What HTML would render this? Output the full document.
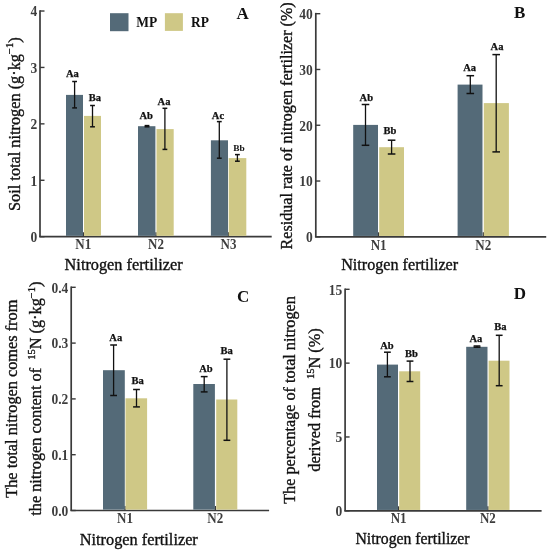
<!DOCTYPE html>
<html><head><meta charset="utf-8"><style>
html,body{margin:0;padding:0;background:#fff;}
svg{display:block;will-change:transform;}
</style></head><body>
<svg width="550" height="551" viewBox="0 0 550 551">
<rect width="550" height="551" fill="#fff"/>
<line x1="40" y1="10.15" x2="40" y2="236.7" stroke="#3a3a3a" stroke-width="1.7"/>
<line x1="39.15" y1="236.7" x2="271.7" y2="236.7" stroke="#3a3a3a" stroke-width="1.7"/>
<line x1="40" y1="236.7" x2="44.5" y2="236.7" stroke="#3a3a3a" stroke-width="1.4"/>
<text transform="translate(37.3,242.0) scale(1,1.15)" font-family="Liberation Serif" font-weight="bold" font-size="13.5" fill="#3d3d3d" text-anchor="end">0</text>
<line x1="40" y1="180.27999999999997" x2="44.5" y2="180.27999999999997" stroke="#3a3a3a" stroke-width="1.4"/>
<text transform="translate(37.3,185.57999999999998) scale(1,1.15)" font-family="Liberation Serif" font-weight="bold" font-size="13.5" fill="#3d3d3d" text-anchor="end">1</text>
<line x1="40" y1="123.85999999999999" x2="44.5" y2="123.85999999999999" stroke="#3a3a3a" stroke-width="1.4"/>
<text transform="translate(37.3,129.16) scale(1,1.15)" font-family="Liberation Serif" font-weight="bold" font-size="13.5" fill="#3d3d3d" text-anchor="end">2</text>
<line x1="40" y1="67.44" x2="44.5" y2="67.44" stroke="#3a3a3a" stroke-width="1.4"/>
<text transform="translate(37.3,72.74) scale(1,1.15)" font-family="Liberation Serif" font-weight="bold" font-size="13.5" fill="#3d3d3d" text-anchor="end">3</text>
<line x1="40" y1="11.019999999999982" x2="44.5" y2="11.019999999999982" stroke="#3a3a3a" stroke-width="1.4"/>
<text transform="translate(37.3,16.319999999999983) scale(1,1.15)" font-family="Liberation Serif" font-weight="bold" font-size="13.5" fill="#3d3d3d" text-anchor="end">4</text>
<line x1="83.3" y1="236.7" x2="83.3" y2="232.2" stroke="#3a3a3a" stroke-width="1.4"/>
<text transform="translate(83.3,249.3) scale(1,1.13)" font-family="Liberation Serif" font-weight="bold" font-size="13" fill="#3d3d3d" text-anchor="middle">N1</text>
<line x1="156" y1="236.7" x2="156" y2="232.2" stroke="#3a3a3a" stroke-width="1.4"/>
<text transform="translate(156,249.3) scale(1,1.13)" font-family="Liberation Serif" font-weight="bold" font-size="13" fill="#3d3d3d" text-anchor="middle">N2</text>
<line x1="228.5" y1="236.7" x2="228.5" y2="232.2" stroke="#3a3a3a" stroke-width="1.4"/>
<text transform="translate(228.5,249.3) scale(1,1.13)" font-family="Liberation Serif" font-weight="bold" font-size="13" fill="#3d3d3d" text-anchor="middle">N3</text>
<rect x="66" y="94.9" width="17" height="140.95" fill="#546a78"/>
<rect x="84" y="115.9" width="17" height="119.94999999999999" fill="#cfc886"/>
<rect x="138" y="126.2" width="17.400000000000006" height="109.64999999999999" fill="#546a78"/>
<rect x="156.5" y="129.1" width="17.19999999999999" height="106.75" fill="#cfc886"/>
<rect x="210.9" y="140.3" width="17.099999999999994" height="95.54999999999998" fill="#546a78"/>
<rect x="228.7" y="158.1" width="17.600000000000023" height="77.75" fill="#cfc886"/>
<line x1="74.6" y1="81.5" x2="74.6" y2="107.9" stroke="#111" stroke-width="1.3"/>
<line x1="72.19999999999999" y1="81.5" x2="77.0" y2="81.5" stroke="#111" stroke-width="1.5"/>
<line x1="72.19999999999999" y1="107.9" x2="77.0" y2="107.9" stroke="#111" stroke-width="1.5"/>
<line x1="92.5" y1="105.5" x2="92.5" y2="126.8" stroke="#111" stroke-width="1.3"/>
<line x1="90.1" y1="105.5" x2="94.9" y2="105.5" stroke="#111" stroke-width="1.5"/>
<line x1="90.1" y1="126.8" x2="94.9" y2="126.8" stroke="#111" stroke-width="1.5"/>
<line x1="147" y1="125.6" x2="147" y2="126.8" stroke="#111" stroke-width="1.3"/>
<line x1="144.6" y1="125.6" x2="149.4" y2="125.6" stroke="#111" stroke-width="1.5"/>
<line x1="144.6" y1="126.8" x2="149.4" y2="126.8" stroke="#111" stroke-width="1.5"/>
<line x1="164.9" y1="108.3" x2="164.9" y2="149.4" stroke="#111" stroke-width="1.3"/>
<line x1="162.5" y1="108.3" x2="167.3" y2="108.3" stroke="#111" stroke-width="1.5"/>
<line x1="162.5" y1="149.4" x2="167.3" y2="149.4" stroke="#111" stroke-width="1.5"/>
<line x1="219.3" y1="121.6" x2="219.3" y2="158.2" stroke="#111" stroke-width="1.3"/>
<line x1="216.9" y1="121.6" x2="221.70000000000002" y2="121.6" stroke="#111" stroke-width="1.5"/>
<line x1="216.9" y1="158.2" x2="221.70000000000002" y2="158.2" stroke="#111" stroke-width="1.5"/>
<line x1="237.4" y1="154.6" x2="237.4" y2="161.2" stroke="#111" stroke-width="1.3"/>
<line x1="235.0" y1="154.6" x2="239.8" y2="154.6" stroke="#111" stroke-width="1.5"/>
<line x1="235.0" y1="161.2" x2="239.8" y2="161.2" stroke="#111" stroke-width="1.5"/>
<text x="65.9" y="77.4" font-family="Liberation Serif" font-weight="bold" font-size="10.5" fill="#111" stroke="#111" stroke-width="0.25" >Aa</text>
<text x="88.7" y="100.7" font-family="Liberation Serif" font-weight="bold" font-size="10.5" fill="#111" stroke="#111" stroke-width="0.25" >Ba</text>
<text x="139.4" y="119.2" font-family="Liberation Serif" font-weight="bold" font-size="10.5" fill="#111" stroke="#111" stroke-width="0.25" >Ab</text>
<text x="157.6" y="104.7" font-family="Liberation Serif" font-weight="bold" font-size="10.5" fill="#111" stroke="#111" stroke-width="0.25" >Aa</text>
<text x="211.8" y="119" font-family="Liberation Serif" font-weight="bold" font-size="10.5" fill="#111" stroke="#111" stroke-width="0.25" >Ac</text>
<text transform="translate(233.3,150.9) scale(0.9,0.72)" font-family="Liberation Serif" font-weight="bold" font-size="10.5" fill="#111">Bb</text>
<rect x="110" y="13.2" width="18.5" height="18" fill="#546a78"/>
<rect x="164.9" y="13.2" width="18" height="17.7" fill="#cfc886"/>
<text transform="translate(136.2,26.8) scale(1,1.13)" font-family="Liberation Serif" font-weight="bold" font-size="13.5" fill="#111">MP</text>
<text transform="translate(191,26.8) scale(1,1.13)" font-family="Liberation Serif" font-weight="bold" font-size="13.5" fill="#111">RP</text>
<text x="236.6" y="18.5" font-family="Liberation Serif" font-weight="bold" font-size="17" fill="#111">A</text>
<text x="64.6" y="270.2" font-family="Liberation Serif" font-size="16.3" fill="#111" stroke="#111" stroke-width="0.35">Nitrogen fertilizer</text>
<text transform="translate(20,124.2) rotate(-90)" x="0" y="0" font-family="Liberation Serif" font-size="16.3" fill="#111" stroke="#111" stroke-width="0.35" text-anchor="middle" xml:space="preserve">Soil total nitrogen (g·kg<tspan font-size="10.5" dy="-7.3">−1</tspan><tspan dy="7.3">)</tspan></text>
<line x1="315.8" y1="12.85" x2="315.8" y2="236.8" stroke="#3a3a3a" stroke-width="1.7"/>
<line x1="314.95" y1="236.8" x2="546.2" y2="236.8" stroke="#3a3a3a" stroke-width="1.7"/>
<line x1="315.8" y1="236.8" x2="320.3" y2="236.8" stroke="#3a3a3a" stroke-width="1.4"/>
<text transform="translate(312.8,242.10000000000002) scale(1,1.15)" font-family="Liberation Serif" font-weight="bold" font-size="13.5" fill="#3d3d3d" text-anchor="end">0</text>
<line x1="315.8" y1="181.025" x2="320.3" y2="181.025" stroke="#3a3a3a" stroke-width="1.4"/>
<text transform="translate(312.8,186.32500000000002) scale(1,1.15)" font-family="Liberation Serif" font-weight="bold" font-size="13.5" fill="#3d3d3d" text-anchor="end">10</text>
<line x1="315.8" y1="125.25" x2="320.3" y2="125.25" stroke="#3a3a3a" stroke-width="1.4"/>
<text transform="translate(312.8,130.55) scale(1,1.15)" font-family="Liberation Serif" font-weight="bold" font-size="13.5" fill="#3d3d3d" text-anchor="end">20</text>
<line x1="315.8" y1="69.475" x2="320.3" y2="69.475" stroke="#3a3a3a" stroke-width="1.4"/>
<text transform="translate(312.8,74.77499999999999) scale(1,1.15)" font-family="Liberation Serif" font-weight="bold" font-size="13.5" fill="#3d3d3d" text-anchor="end">30</text>
<line x1="315.8" y1="13.699999999999989" x2="320.3" y2="13.699999999999989" stroke="#3a3a3a" stroke-width="1.4"/>
<text transform="translate(312.8,18.99999999999999) scale(1,1.15)" font-family="Liberation Serif" font-weight="bold" font-size="13.5" fill="#3d3d3d" text-anchor="end">40</text>
<line x1="378.6" y1="236.8" x2="378.6" y2="232.3" stroke="#3a3a3a" stroke-width="1.4"/>
<text transform="translate(378.6,249.6) scale(1,1.13)" font-family="Liberation Serif" font-weight="bold" font-size="13" fill="#3d3d3d" text-anchor="middle">N1</text>
<line x1="483.3" y1="236.8" x2="483.3" y2="232.3" stroke="#3a3a3a" stroke-width="1.4"/>
<text transform="translate(483.3,249.6) scale(1,1.13)" font-family="Liberation Serif" font-weight="bold" font-size="13" fill="#3d3d3d" text-anchor="middle">N2</text>
<rect x="353.2" y="124.9" width="24.80000000000001" height="111.05000000000001" fill="#546a78"/>
<rect x="379.2" y="147.2" width="24.80000000000001" height="88.75000000000003" fill="#cfc886"/>
<rect x="457.6" y="84.6" width="24.899999999999977" height="151.35000000000002" fill="#546a78"/>
<rect x="483.8" y="103.1" width="25.099999999999966" height="132.85000000000002" fill="#cfc886"/>
<line x1="365.5" y1="104.5" x2="365.5" y2="145.3" stroke="#111" stroke-width="1.3"/>
<line x1="361.7" y1="104.5" x2="369.3" y2="104.5" stroke="#111" stroke-width="1.5"/>
<line x1="361.7" y1="145.3" x2="369.3" y2="145.3" stroke="#111" stroke-width="1.5"/>
<line x1="391.6" y1="140.2" x2="391.6" y2="154" stroke="#111" stroke-width="1.3"/>
<line x1="387.8" y1="140.2" x2="395.40000000000003" y2="140.2" stroke="#111" stroke-width="1.5"/>
<line x1="387.8" y1="154" x2="395.40000000000003" y2="154" stroke="#111" stroke-width="1.5"/>
<line x1="470.3" y1="75.7" x2="470.3" y2="93.5" stroke="#111" stroke-width="1.3"/>
<line x1="466.5" y1="75.7" x2="474.1" y2="75.7" stroke="#111" stroke-width="1.5"/>
<line x1="466.5" y1="93.5" x2="474.1" y2="93.5" stroke="#111" stroke-width="1.5"/>
<line x1="496.2" y1="54.6" x2="496.2" y2="151.9" stroke="#111" stroke-width="1.3"/>
<line x1="492.4" y1="54.6" x2="500.0" y2="54.6" stroke="#111" stroke-width="1.5"/>
<line x1="492.4" y1="151.9" x2="500.0" y2="151.9" stroke="#111" stroke-width="1.5"/>
<text x="359.6" y="100.9" font-family="Liberation Serif" font-weight="bold" font-size="10.5" fill="#111" stroke="#111" stroke-width="0.25" >Ab</text>
<text x="383.6" y="133.6" font-family="Liberation Serif" font-weight="bold" font-size="10.5" fill="#111" stroke="#111" stroke-width="0.25" >Bb</text>
<text x="463.2" y="70.6" font-family="Liberation Serif" font-weight="bold" font-size="10.5" fill="#111" stroke="#111" stroke-width="0.25" >Aa</text>
<text x="490.6" y="50.3" font-family="Liberation Serif" font-weight="bold" font-size="10.5" fill="#111" stroke="#111" stroke-width="0.25" >Aa</text>
<text x="514" y="17.8" font-family="Liberation Serif" font-weight="bold" font-size="17" fill="#111">B</text>
<text x="341.2" y="269.6" font-family="Liberation Serif" font-size="16.15" fill="#111" stroke="#111" stroke-width="0.35">Nitrogen fertilizer</text>
<text transform="translate(292.2,125.9) rotate(-90)" x="0" y="0" font-family="Liberation Serif" font-size="16.1" fill="#111" stroke="#111" stroke-width="0.35" text-anchor="middle" xml:space="preserve">Residual rate of nitrogen fertilizer (%)</text>
<line x1="71.2" y1="286.45" x2="71.2" y2="510.5" stroke="#3a3a3a" stroke-width="1.7"/>
<line x1="70.35000000000001" y1="510.5" x2="269.1" y2="510.5" stroke="#3a3a3a" stroke-width="1.7"/>
<line x1="71.2" y1="510.5" x2="75.7" y2="510.5" stroke="#3a3a3a" stroke-width="1.4"/>
<text transform="translate(68.3,515.8) scale(1,1.15)" font-family="Liberation Serif" font-weight="bold" font-size="13.5" fill="#3d3d3d" text-anchor="end">0.0</text>
<line x1="71.2" y1="454.7" x2="75.7" y2="454.7" stroke="#3a3a3a" stroke-width="1.4"/>
<text transform="translate(68.3,460.0) scale(1,1.15)" font-family="Liberation Serif" font-weight="bold" font-size="13.5" fill="#3d3d3d" text-anchor="end">0.1</text>
<line x1="71.2" y1="398.90000000000003" x2="75.7" y2="398.90000000000003" stroke="#3a3a3a" stroke-width="1.4"/>
<text transform="translate(68.3,404.20000000000005) scale(1,1.15)" font-family="Liberation Serif" font-weight="bold" font-size="13.5" fill="#3d3d3d" text-anchor="end">0.2</text>
<line x1="71.2" y1="343.1" x2="75.7" y2="343.1" stroke="#3a3a3a" stroke-width="1.4"/>
<text transform="translate(68.3,348.40000000000003) scale(1,1.15)" font-family="Liberation Serif" font-weight="bold" font-size="13.5" fill="#3d3d3d" text-anchor="end">0.3</text>
<line x1="71.2" y1="287.30000000000007" x2="75.7" y2="287.30000000000007" stroke="#3a3a3a" stroke-width="1.4"/>
<text transform="translate(68.3,292.6000000000001) scale(1,1.15)" font-family="Liberation Serif" font-weight="bold" font-size="13.5" fill="#3d3d3d" text-anchor="end">0.4</text>
<line x1="125" y1="510.5" x2="125" y2="506.0" stroke="#3a3a3a" stroke-width="1.4"/>
<text transform="translate(125,523.3) scale(1,1.13)" font-family="Liberation Serif" font-weight="bold" font-size="13" fill="#3d3d3d" text-anchor="middle">N1</text>
<line x1="215.3" y1="510.5" x2="215.3" y2="506.0" stroke="#3a3a3a" stroke-width="1.4"/>
<text transform="translate(215.3,523.3) scale(1,1.13)" font-family="Liberation Serif" font-weight="bold" font-size="13" fill="#3d3d3d" text-anchor="middle">N2</text>
<rect x="103" y="370.2" width="21.799999999999997" height="139.45" fill="#546a78"/>
<rect x="125.5" y="398.3" width="21.599999999999994" height="111.34999999999997" fill="#cfc886"/>
<rect x="193.3" y="384" width="21.599999999999994" height="125.64999999999998" fill="#546a78"/>
<rect x="216.2" y="399.5" width="21.100000000000023" height="110.14999999999998" fill="#cfc886"/>
<line x1="113.6" y1="345" x2="113.6" y2="395.5" stroke="#111" stroke-width="1.3"/>
<line x1="110.19999999999999" y1="345" x2="117.0" y2="345" stroke="#111" stroke-width="1.5"/>
<line x1="110.19999999999999" y1="395.5" x2="117.0" y2="395.5" stroke="#111" stroke-width="1.5"/>
<line x1="136.5" y1="389.5" x2="136.5" y2="406.9" stroke="#111" stroke-width="1.3"/>
<line x1="133.1" y1="389.5" x2="139.9" y2="389.5" stroke="#111" stroke-width="1.5"/>
<line x1="133.1" y1="406.9" x2="139.9" y2="406.9" stroke="#111" stroke-width="1.5"/>
<line x1="204.2" y1="376.6" x2="204.2" y2="391.9" stroke="#111" stroke-width="1.3"/>
<line x1="200.79999999999998" y1="376.6" x2="207.6" y2="376.6" stroke="#111" stroke-width="1.5"/>
<line x1="200.79999999999998" y1="391.9" x2="207.6" y2="391.9" stroke="#111" stroke-width="1.5"/>
<line x1="226.9" y1="359.2" x2="226.9" y2="440.3" stroke="#111" stroke-width="1.3"/>
<line x1="223.5" y1="359.2" x2="230.3" y2="359.2" stroke="#111" stroke-width="1.5"/>
<line x1="223.5" y1="440.3" x2="230.3" y2="440.3" stroke="#111" stroke-width="1.5"/>
<text x="109.3" y="341.1" font-family="Liberation Serif" font-weight="bold" font-size="10.5" fill="#111" stroke="#111" stroke-width="0.25" >Aa</text>
<text x="131.4" y="383.6" font-family="Liberation Serif" font-weight="bold" font-size="10.5" fill="#111" stroke="#111" stroke-width="0.25" >Ba</text>
<text x="199.2" y="372.3" font-family="Liberation Serif" font-weight="bold" font-size="10.5" fill="#111" stroke="#111" stroke-width="0.25" >Ab</text>
<text x="220.5" y="353.5" font-family="Liberation Serif" font-weight="bold" font-size="10.5" fill="#111" stroke="#111" stroke-width="0.25" >Ba</text>
<text x="236.9" y="301.5" font-family="Liberation Serif" font-weight="bold" font-size="17" fill="#111">C</text>
<text x="79.8" y="544.5" font-family="Liberation Serif" font-size="16.3" fill="#111" stroke="#111" stroke-width="0.35">Nitrogen fertilizer</text>
<text transform="translate(16.5,398.7) rotate(-90)" x="0" y="0" font-family="Liberation Serif" font-size="16.3" fill="#111" stroke="#111" stroke-width="0.35" text-anchor="middle" xml:space="preserve">The total nitrogen comes from</text>
<text transform="translate(41,398.7) rotate(-90)" x="0" y="0" font-family="Liberation Serif" font-size="16.3" fill="#111" stroke="#111" stroke-width="0.35" text-anchor="middle" xml:space="preserve">the nitrogen content of  <tspan font-size="10.5" dy="-6">15</tspan><tspan dy="6">N (g·kg</tspan><tspan font-size="10.5" dy="-5.8">−1</tspan><tspan dy="5.8">)</tspan></text>
<line x1="345.1" y1="288.45" x2="345.1" y2="510.8" stroke="#3a3a3a" stroke-width="1.7"/>
<line x1="344.25" y1="510.8" x2="541.6" y2="510.8" stroke="#3a3a3a" stroke-width="1.7"/>
<line x1="345.1" y1="510.8" x2="349.6" y2="510.8" stroke="#3a3a3a" stroke-width="1.4"/>
<text transform="translate(342.3,516.1) scale(1,1.15)" font-family="Liberation Serif" font-weight="bold" font-size="13.5" fill="#3d3d3d" text-anchor="end">0</text>
<line x1="345.1" y1="436.9666666666667" x2="349.6" y2="436.9666666666667" stroke="#3a3a3a" stroke-width="1.4"/>
<text transform="translate(342.3,442.2666666666667) scale(1,1.15)" font-family="Liberation Serif" font-weight="bold" font-size="13.5" fill="#3d3d3d" text-anchor="end">5</text>
<line x1="345.1" y1="363.1333333333333" x2="349.6" y2="363.1333333333333" stroke="#3a3a3a" stroke-width="1.4"/>
<text transform="translate(342.3,368.43333333333334) scale(1,1.15)" font-family="Liberation Serif" font-weight="bold" font-size="13.5" fill="#3d3d3d" text-anchor="end">10</text>
<line x1="345.1" y1="289.3" x2="349.6" y2="289.3" stroke="#3a3a3a" stroke-width="1.4"/>
<text transform="translate(342.3,294.6) scale(1,1.15)" font-family="Liberation Serif" font-weight="bold" font-size="13.5" fill="#3d3d3d" text-anchor="end">15</text>
<line x1="398.6" y1="510.8" x2="398.6" y2="506.3" stroke="#3a3a3a" stroke-width="1.4"/>
<text transform="translate(398.6,523) scale(1,1.13)" font-family="Liberation Serif" font-weight="bold" font-size="13" fill="#3d3d3d" text-anchor="middle">N1</text>
<line x1="487.9" y1="510.8" x2="487.9" y2="506.3" stroke="#3a3a3a" stroke-width="1.4"/>
<text transform="translate(487.9,523) scale(1,1.13)" font-family="Liberation Serif" font-weight="bold" font-size="13" fill="#3d3d3d" text-anchor="middle">N2</text>
<rect x="377" y="364.6" width="21" height="145.34999999999997" fill="#546a78"/>
<rect x="399.2" y="371.3" width="21.0" height="138.64999999999998" fill="#cfc886"/>
<rect x="466.2" y="346.8" width="21.30000000000001" height="163.14999999999998" fill="#546a78"/>
<rect x="488.6" y="360.7" width="20.899999999999977" height="149.25" fill="#cfc886"/>
<line x1="387.4" y1="352.2" x2="387.4" y2="376.8" stroke="#111" stroke-width="1.3"/>
<line x1="384.0" y1="352.2" x2="390.79999999999995" y2="352.2" stroke="#111" stroke-width="1.5"/>
<line x1="384.0" y1="376.8" x2="390.79999999999995" y2="376.8" stroke="#111" stroke-width="1.5"/>
<line x1="410" y1="361.1" x2="410" y2="381.5" stroke="#111" stroke-width="1.3"/>
<line x1="406.6" y1="361.1" x2="413.4" y2="361.1" stroke="#111" stroke-width="1.5"/>
<line x1="406.6" y1="381.5" x2="413.4" y2="381.5" stroke="#111" stroke-width="1.5"/>
<line x1="477" y1="346" x2="477" y2="347.2" stroke="#111" stroke-width="1.3"/>
<line x1="473.6" y1="346" x2="480.4" y2="346" stroke="#111" stroke-width="1.5"/>
<line x1="473.6" y1="347.2" x2="480.4" y2="347.2" stroke="#111" stroke-width="1.5"/>
<line x1="499.2" y1="335.3" x2="499.2" y2="385.7" stroke="#111" stroke-width="1.3"/>
<line x1="495.8" y1="335.3" x2="502.59999999999997" y2="335.3" stroke="#111" stroke-width="1.5"/>
<line x1="495.8" y1="385.7" x2="502.59999999999997" y2="385.7" stroke="#111" stroke-width="1.5"/>
<text x="380.2" y="349.1" font-family="Liberation Serif" font-weight="bold" font-size="10.5" fill="#111" stroke="#111" stroke-width="0.25" >Ab</text>
<text x="405" y="356.7" font-family="Liberation Serif" font-weight="bold" font-size="10.5" fill="#111" stroke="#111" stroke-width="0.25" >Bb</text>
<text x="469.5" y="341.9" font-family="Liberation Serif" font-weight="bold" font-size="10.5" fill="#111" stroke="#111" stroke-width="0.25" >Aa</text>
<text x="494.3" y="330.4" font-family="Liberation Serif" font-weight="bold" font-size="10.5" fill="#111" stroke="#111" stroke-width="0.25" >Ba</text>
<text x="513.8" y="298.5" font-family="Liberation Serif" font-weight="bold" font-size="17" fill="#111">D</text>
<text x="355.4" y="544" font-family="Liberation Serif" font-size="15.75" fill="#111" stroke="#111" stroke-width="0.35">Nitrogen fertilizer</text>
<text transform="translate(295.4,400) rotate(-90)" x="0" y="0" font-family="Liberation Serif" font-size="16.2" fill="#111" stroke="#111" stroke-width="0.35" text-anchor="middle" xml:space="preserve">The percentage of total nitrogen</text>
<text transform="translate(320,400) rotate(-90)" x="0" y="0" font-family="Liberation Serif" font-size="16.3" fill="#111" stroke="#111" stroke-width="0.35" text-anchor="middle" xml:space="preserve">derived from  <tspan font-size="10.5" dy="-6">15</tspan><tspan dy="6">N (%)</tspan></text>
</svg>
</body></html>
